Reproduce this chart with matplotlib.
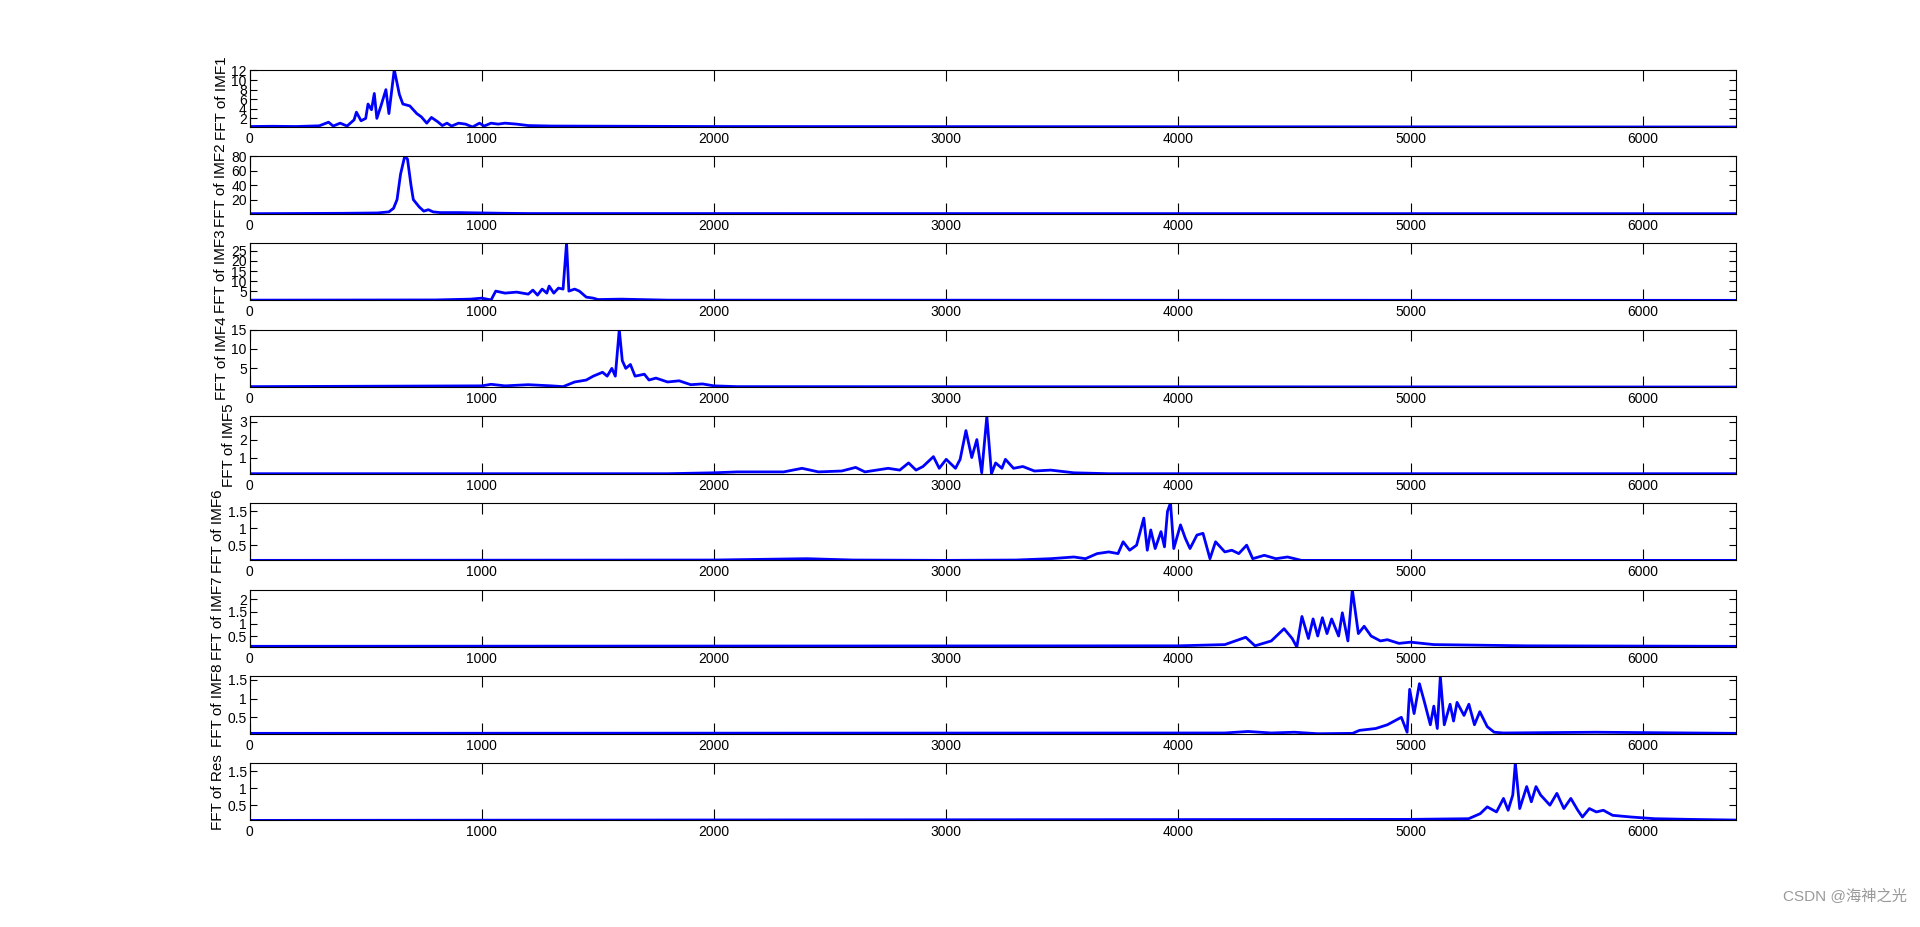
import numpy as np
import matplotlib
matplotlib.use('Agg')
import matplotlib.pyplot as plt

plt.rcParams['font.family'] = ['Liberation Sans', 'Noto Sans CJK SC', 'DejaVu Sans']

labels = ['FFT of IMF1', 'FFT of IMF2', 'FFT of IMF3', 'FFT of IMF4', 'FFT of IMF5',
          'FFT of IMF6', 'FFT of IMF7', 'FFT of IMF8', 'FFT of Res']

imf1_f = [0, 100, 200, 300, 340, 360, 390, 420, 450, 460, 480, 500, 510, 525, 537, 548, 565, 587, 600, 623,
          645, 660, 690, 720, 740, 763, 783, 810, 830, 850, 870, 900, 930, 960, 990, 1010, 1040, 1070, 1100,
          1150, 1200, 1300, 2000, 6400]
imf1_a = [.3, .35, .3, .45, 1.2, .4, 1.0, .4, 1.7, 3.3, 1.5, 2.0, 5.0, 3.8, 7.2, 2.0, 4.5, 8.0, 3.0, 12.2,
          7, 5.0, 4.6, 3.0, 2.3, 1.0, 2.2, 1.3, .5, 1.0, .4, 1.0, .8, .2, 1.0, .4, 1.0, .8, 1.0,
          .8, .5, .4, .3, .2]

imf2_f = [0, 400, 550, 600, 620, 635, 650, 668, 680, 695, 705, 730, 750, 770, 790, 820, 900, 1000, 1100, 1200, 6400]
imf2_a = [.5, 1, 1.5, 3, 8, 20, 55, 80, 76, 40, 20, 10, 4, 6, 3, 2, 2, 1.5, 1, .7, .5]

imf3_f = [0, 800, 950, 1000, 1040, 1060, 1100, 1150, 1200, 1220, 1240, 1260, 1280, 1290, 1310, 1330, 1350,
          1365, 1375, 1400, 1420, 1450, 1480, 1500, 1600, 1800, 6400]
imf3_a = [.5, .6, 1, 1.5, .6, 5, 4, 4.5, 3.5, 5.5, 3, 6, 4, 7.5, 4, 6.5, 6,
          29, 5, 6, 5, 2, 1.5, .8, 1, .5, .4]

imf4_f = [0, 1000, 1040, 1100, 1200, 1300, 1350, 1400, 1450, 1480, 1520, 1540, 1560, 1575, 1592, 1605, 1620,
          1640, 1660, 1700, 1720, 1750, 1800, 1850, 1900, 1950, 2000, 2100, 6400]
imf4_a = [.3, .5, .9, .5, .8, .5, .3, 1.5, 2, 3, 4, 3, 5, 3, 15, 7, 5,
          6, 3, 3.5, 2, 2.5, 1.5, 1.8, .8, 1, .5, .3, .2]

imf5_f = [0, 1800, 2000, 2100, 2300, 2379, 2450, 2550, 2610, 2650, 2750, 2800, 2838, 2870, 2900, 2945, 2970,
          3000, 3040, 3060, 3085, 3110, 3132, 3153, 3175, 3195, 3213, 3240, 3255, 3290, 3330, 3380, 3450,
          3550, 3700, 6400]
imf5_a = [.1, .1, .15, .2, .2, .4, .2, .25, .45, .2, .4, .3, .7, .3, .5, 1.05, .4,
          .9, .4, .9, 2.5, 1.0, 2.0, .15, 3.3, .1, .7, .4, .9, .4, .5, .25, .3,
          .15, .1, .1]

imf6_f = [0, 2000, 2400, 2600, 3000, 3300, 3450, 3550, 3600, 3650, 3700, 3740, 3762, 3790, 3820, 3851, 3866,
          3881, 3900, 3925, 3940, 3953, 3966, 3980, 4009, 4030, 4050, 4080, 4106, 4136, 4160, 4200, 4230,
          4260, 4294, 4320, 4370, 4420, 4470, 4530, 6400]
imf6_a = [.05, .06, .1, .06, .05, .06, .1, .15, .1, .25, .3, .25, .6, .35, .5, 1.3, .35,
          .95, .4, .9, .45, 1.5, 1.75, .4, 1.1, .7, .4, .8, .85, .1, .6, .3, .35,
          .25, .5, .1, .2, .1, .15, .05, .05]

imf7_f = [0, 4000, 4200, 4290, 4330, 4400, 4455, 4490, 4510, 4532, 4560, 4580, 4600, 4620, 4640, 4660, 4690,
          4706, 4730, 4749, 4775, 4800, 4830, 4870, 4900, 4950, 5000, 5100, 5500, 6400]
imf7_a = [.08, .1, .15, .45, .1, .3, .8, .4, .05, 1.3, .4, 1.2, .5, 1.25, .6, 1.2, .5,
          1.45, .3, 2.4, .6, .9, .5, .3, .35, .2, .25, .15, .1, .08]

imf8_f = [0, 4200, 4300, 4400, 4500, 4600, 4750, 4780, 4850, 4900, 4960, 4985, 4996, 5015, 5038, 5060, 5085,
          5100, 5115, 5128, 5145, 5170, 5185, 5200, 5230, 5251, 5275, 5298, 5330, 5360, 5400, 5800, 6400]
imf8_a = [.07, .08, .12, .08, .1, .06, .07, .15, .2, .3, .5, .1, 1.25, .6, 1.4, .9, .3,
          .8, .2, 1.6, .3, .85, .4, .9, .55, .85, .3, .65, .25, .1, .08, .1, .07]

res_f = [0, 5000, 5250, 5300, 5330, 5370, 5400, 5420, 5440, 5451, 5470, 5500, 5520, 5540, 5560, 5600, 5630,
         5660, 5690, 5720, 5740, 5770, 5800, 5830, 5870, 5950, 6050, 6200, 6400]
res_a = [.05, .08, .1, .25, .45, .3, .7, .35, .8, 1.75, .4, 1.05, .6, 1.05, .8, .5, .85,
         .4, .7, .35, .15, .4, .3, .35, .2, .15, .1, .08, .06]

freqs = [imf1_f, imf2_f, imf3_f, imf4_f, imf5_f, imf6_f, imf7_f, imf8_f, res_f]
amps = [imf1_a, imf2_a, imf3_a, imf4_a, imf5_a, imf6_a, imf7_a, imf8_a, res_a]
yticks = [[2, 4, 6, 8, 10, 12], [20, 40, 60, 80], [5, 10, 15, 20, 25], [5, 10, 15], [1, 2, 3],
          [0.5, 1, 1.5], [0.5, 1, 1.5, 2], [0.5, 1, 1.5], [0.5, 1, 1.5]]
xticks = [0, 1000, 2000, 3000, 4000, 5000, 6000]

fig = plt.figure(figsize=(19.2, 9.27), dpi=100)
left, width, h = 0.130, 0.774, 0.062
top = 0.925
pitch = 0.0935
for i in range(9):
    ax = fig.add_axes([left, top - h - i * pitch, width, h])
    ax.plot(freqs[i], amps[i], color='#0000FF', lw=2)
    ax.set_xlim(0, 6400)
    ax.set_ylim(min(amps[i]), max(amps[i]))
    ax.set_xticks(xticks)
    ax.set_yticks(yticks[i])
    ax.set_yticklabels([f'{v:g}' for v in yticks[i]])
    ax.tick_params(direction='in', top=True, right=True, labelsize=10, length=8, width=0.8)
    ax.tick_params(axis='y', length=5, pad=2)
    ax.set_ylabel(labels[i], fontsize=11, labelpad=2)
    for s in ax.spines.values():
        s.set_linewidth(0.8)

fig.text(0.993, 0.025, 'CSDN @海神之光', ha='right', va='bottom', fontsize=11, color='#999999')
fig.savefig('out.png', dpi=100, facecolor='white')
